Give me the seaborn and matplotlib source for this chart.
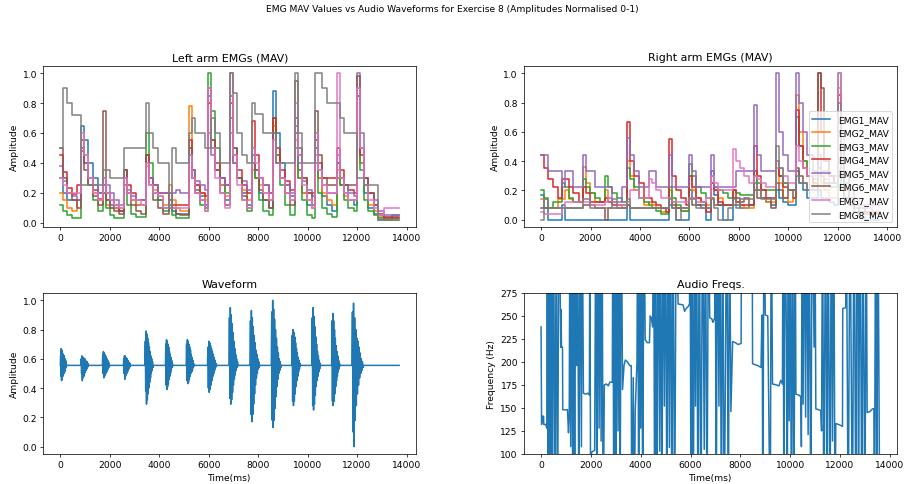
"""
EMG MAV vs audio waveform overview for exercise 8
"""
import numpy as np
import pandas as pd
import matplotlib
matplotlib.use("Agg")
import matplotlib.pyplot as plt
from matplotlib.ticker import MultipleLocator
import seaborn as sns

plt.rcParams["font.family"] = ["DejaVu Sans"]
plt.rcParams["lines.linewidth"] = 1.65

CHANNELS = ["EMG1_MAV", "EMG2_MAV", "EMG3_MAV", "EMG4_MAV",
            "EMG5_MAV", "EMG6_MAV", "EMG7_MAV", "EMG8_MAV"]
PALETTE = sns.color_palette("tab10", 8)

# shared MAV window times (ms)
EMG_T = [0, 120, 280, 470, 680,
         835, 955, 1115, 1305, 1515,
         1710, 1830, 1990, 2180, 2390,
         2590, 2710, 2870, 3060, 3270,
         3475, 3595, 3755, 3945, 4155,
         4380, 4500, 4660, 4850, 5060,
         5185, 5305, 5465, 5655, 5865,
         5990, 6110, 6270, 6460, 6670,
         6870, 6990, 7150, 7340, 7550,
         7745, 7865, 8025, 8215, 8425,
         8620, 8740, 8900, 9090, 9300,
         9500, 9620, 9780, 9970, 10180,
         10300, 10420, 10580, 10770, 10980,
         11180, 11300, 11460, 11650, 11860,
         11990, 12110, 12270, 12460, 12670,
         12850, 13100, 13400, 13700]

# left arm, normalised MAV
LEFT_EMG1 = [0.30, 0.20, 0.15, 0.15, 0.15, 0.65, 0.55, 0.40, 0.30, 0.20,
             0.25, 0.15, 0.12, 0.10, 0.08, 0.35, 0.20, 0.15, 0.12, 0.12,
             0.45, 0.30, 0.20, 0.15, 0.10, 0.12, 0.08, 0.06, 0.06, 0.06,
             0.50, 0.30, 0.22, 0.18, 0.12, 0.85, 0.50, 0.35, 0.25, 0.15,
             0.70, 0.40, 0.30, 0.20, 0.12, 0.45, 0.30, 0.20, 0.15, 0.10,
             0.88, 0.60, 0.40, 0.25, 0.18, 0.60, 0.35, 0.20, 0.12, 0.10,
             0.50, 0.30, 0.18, 0.12, 0.08, 0.40, 0.25, 0.20, 0.15, 0.12,
             0.90, 0.40, 0.20, 0.10, 0.06, 0.02, 0.02, 0.05, 0.05]
LEFT_EMG2 = [0.20, 0.15, 0.10, 0.08, 0.15, 0.55, 0.45, 0.30, 0.20, 0.15,
             0.20, 0.12, 0.10, 0.10, 0.10, 0.30, 0.20, 0.15, 0.12, 0.12,
             0.38, 0.30, 0.22, 0.18, 0.12, 0.25, 0.15, 0.10, 0.08, 0.08,
             0.78, 0.35, 0.25, 0.20, 0.15, 0.80, 0.50, 0.35, 0.25, 0.18,
             0.70, 0.40, 0.30, 0.22, 0.15, 0.35, 0.30, 0.25, 0.20, 0.15,
             0.65, 0.45, 0.30, 0.20, 0.15, 0.55, 0.30, 0.20, 0.15, 0.10,
             0.45, 0.30, 0.20, 0.15, 0.12, 0.35, 0.25, 0.18, 0.15, 0.15,
             0.90, 0.40, 0.25, 0.12, 0.08, 0.04, 0.03, 0.03, 0.03]
LEFT_EMG3 = [0.12, 0.08, 0.05, 0.03, 0.03, 0.50, 0.40, 0.25, 0.15, 0.08,
             0.20, 0.10, 0.05, 0.03, 0.03, 0.25, 0.12, 0.06, 0.04, 0.04,
             0.60, 0.40, 0.25, 0.15, 0.08, 0.10, 0.05, 0.03, 0.03, 0.03,
             0.45, 0.30, 0.20, 0.12, 0.08, 1.00, 0.75, 0.50, 0.30, 0.20,
             0.85, 0.50, 0.30, 0.15, 0.08, 0.40, 0.30, 0.15, 0.08, 0.05,
             0.70, 0.45, 0.25, 0.12, 0.05, 0.50, 0.30, 0.15, 0.05, 0.03,
             0.40, 0.20, 0.10, 0.06, 0.04, 0.30, 0.25, 0.15, 0.10, 0.08,
             0.85, 0.35, 0.15, 0.08, 0.05, 0.03, 0.02, 0.02, 0.02]
LEFT_EMG4 = [0.45, 0.34, 0.23, 0.19, 0.25, 0.48, 0.40, 0.30, 0.22, 0.16,
             0.30, 0.20, 0.15, 0.12, 0.08, 0.35, 0.25, 0.20, 0.15, 0.15,
             0.45, 0.30, 0.25, 0.20, 0.20, 0.15, 0.12, 0.12, 0.12, 0.12,
             0.55, 0.35, 0.25, 0.20, 0.18, 0.80, 0.55, 0.40, 0.30, 0.25,
             0.80, 0.45, 0.35, 0.25, 0.20, 0.68, 0.45, 0.30, 0.25, 0.20,
             0.70, 0.50, 0.35, 0.28, 0.22, 0.70, 0.45, 0.30, 0.20, 0.20,
             0.55, 0.40, 0.30, 0.30, 0.30, 0.50, 0.35, 0.25, 0.22, 0.20,
             0.85, 0.45, 0.30, 0.20, 0.12, 0.06, 0.04, 0.04, 0.04]
LEFT_EMG5 = [0.38, 0.28, 0.20, 0.18, 0.15, 0.50, 0.40, 0.30, 0.25, 0.20,
             0.30, 0.25, 0.20, 0.15, 0.12, 0.30, 0.22, 0.18, 0.15, 0.15,
             0.40, 0.30, 0.25, 0.20, 0.20, 0.15, 0.20, 0.22, 0.20, 0.20,
             0.45, 0.35, 0.28, 0.25, 0.22, 0.60, 0.45, 0.35, 0.30, 0.25,
             0.60, 0.40, 0.30, 0.28, 0.22, 0.40, 0.35, 0.30, 0.25, 0.20,
             0.60, 0.40, 0.30, 0.25, 0.20, 0.65, 0.40, 0.28, 0.22, 0.18,
             0.60, 0.35, 0.25, 0.20, 0.20, 0.45, 0.30, 0.25, 0.20, 0.18,
             1.00, 0.60, 0.30, 0.20, 0.15, 0.08, 0.05, 0.05, 0.05]
LEFT_EMG6 = [0.50, 0.30, 0.20, 0.15, 0.10, 0.55, 0.35, 0.25, 0.18, 0.12,
             0.75, 0.15, 0.10, 0.08, 0.06, 0.35, 0.20, 0.12, 0.08, 0.06,
             0.45, 0.25, 0.15, 0.10, 0.06, 0.20, 0.10, 0.06, 0.05, 0.05,
             0.50, 0.30, 0.20, 0.15, 0.10, 0.90, 0.55, 0.35, 0.20, 0.12,
             1.00, 0.50, 0.30, 0.18, 0.10, 0.50, 0.35, 0.22, 0.15, 0.10,
             0.60, 0.40, 0.30, 0.20, 0.12, 0.95, 0.50, 0.30, 0.20, 0.12,
             0.75, 0.45, 0.30, 0.25, 0.25, 0.40, 0.30, 0.25, 0.25, 0.25,
             0.98, 0.50, 0.30, 0.20, 0.12, 0.05, 0.03, 0.03, 0.03]
LEFT_EMG7 = [0.30, 0.25, 0.20, 0.20, 0.20, 0.60, 0.45, 0.30, 0.20, 0.15,
             0.30, 0.20, 0.15, 0.12, 0.10, 0.30, 0.20, 0.15, 0.15, 0.12,
             0.40, 0.25, 0.20, 0.18, 0.10, 0.10, 0.10, 0.10, 0.10, 0.10,
             0.45, 0.30, 0.20, 0.15, 0.08, 0.90, 0.50, 0.30, 0.20, 0.10,
             1.00, 0.45, 0.25, 0.15, 0.10, 0.50, 0.40, 0.30, 0.20, 0.15,
             0.55, 0.40, 0.30, 0.20, 0.15, 0.80, 0.45, 0.25, 0.15, 0.10,
             0.60, 0.35, 0.25, 0.20, 0.20, 1.00, 0.30, 0.20, 0.15, 0.15,
             0.90, 0.50, 0.25, 0.15, 0.10, 0.05, 0.10, 0.10, 0.10]
LEFT_EMG8 = [0.50, 0.90, 0.80, 0.72, 0.72, 0.25, 0.25, 0.25, 0.25, 0.25,
             0.35, 0.35, 0.30, 0.30, 0.30, 0.50, 0.50, 0.50, 0.50, 0.50,
             0.80, 0.60, 0.50, 0.40, 0.40, 0.10, 0.50, 0.40, 0.40, 0.40,
             0.60, 0.70, 0.60, 0.60, 0.50, 0.50, 0.70, 0.60, 0.40, 0.40,
             1.00, 0.87, 0.60, 0.45, 0.40, 0.80, 0.73, 0.73, 0.60, 0.60,
             0.60, 0.40, 0.40, 0.40, 0.40, 1.00, 0.60, 0.40, 0.40, 0.40,
             1.00, 1.00, 0.90, 0.80, 0.80, 0.80, 0.70, 0.60, 0.60, 0.60,
             0.30, 0.30, 0.25, 0.25, 0.25, 0.02, 0.02, 0.02, 0.02]

# right arm, normalised MAV
RIGHT_EMG1 = [0.17, 0.08, 0.00, 0.00, 0.00, 0.10, 0.00, 0.00, 0.00, 0.00,
              0.00, 0.00, 0.00, 0.00, 0.00, 0.00, 0.00, 0.00, 0.00, 0.00,
              0.10, 0.00, 0.00, 0.00, 0.00, 0.00, 0.00, 0.00, 0.00, 0.00,
              0.10, 0.08, 0.00, 0.00, 0.00, 0.20, 0.15, 0.10, 0.10, 0.00,
              0.33, 0.17, 0.10, 0.00, 0.00, 0.10, 0.10, 0.08, 0.08, 0.10,
              0.33, 0.20, 0.15, 0.12, 0.10, 0.20, 0.15, 0.12, 0.10, 0.10,
              0.33, 0.25, 0.20, 0.15, 0.15, 0.20, 0.15, 0.15, 0.12, 0.10,
              0.30, 0.20, 0.15, 0.10, 0.05, 0.02, 0.00, 0.00, 0.00]
RIGHT_EMG2 = [0.14, 0.14, 0.08, 0.08, 0.14, 0.14, 0.20, 0.14, 0.12, 0.12,
              0.36, 0.25, 0.18, 0.12, 0.12, 0.20, 0.15, 0.12, 0.10, 0.08,
              0.40, 0.30, 0.20, 0.15, 0.10, 0.12, 0.10, 0.08, 0.05, 0.05,
              0.20, 0.12, 0.08, 0.06, 0.06, 0.30, 0.20, 0.15, 0.12, 0.10,
              0.25, 0.20, 0.15, 0.10, 0.10, 0.15, 0.12, 0.10, 0.08, 0.08,
              0.30, 0.20, 0.15, 0.12, 0.12, 0.35, 0.25, 0.15, 0.12, 0.15,
              0.85, 0.60, 0.40, 0.30, 0.20, 0.30, 0.25, 0.20, 0.15, 0.15,
              0.90, 0.50, 0.20, 0.15, 0.10, 0.10, 0.08, 0.05, 0.05]
RIGHT_EMG3 = [0.20, 0.15, 0.08, 0.12, 0.12, 0.25, 0.22, 0.15, 0.12, 0.12,
              0.28, 0.22, 0.18, 0.15, 0.12, 0.30, 0.22, 0.18, 0.15, 0.12,
              0.35, 0.28, 0.22, 0.15, 0.12, 0.10, 0.08, 0.06, 0.04, 0.04,
              0.22, 0.15, 0.10, 0.06, 0.06, 0.38, 0.30, 0.22, 0.18, 0.15,
              0.30, 0.22, 0.20, 0.18, 0.15, 0.20, 0.18, 0.17, 0.17, 0.17,
              0.30, 0.25, 0.20, 0.20, 0.20, 0.40, 0.30, 0.25, 0.20, 0.20,
              0.70, 0.50, 0.40, 0.30, 0.28, 0.35, 0.30, 0.25, 0.22, 0.22,
              1.00, 0.50, 0.25, 0.15, 0.10, 0.08, 0.05, 0.04, 0.03]
RIGHT_EMG4 = [0.44, 0.35, 0.28, 0.22, 0.15, 0.28, 0.28, 0.22, 0.18, 0.12,
              0.22, 0.18, 0.12, 0.12, 0.12, 0.15, 0.12, 0.10, 0.10, 0.10,
              0.67, 0.40, 0.30, 0.25, 0.15, 0.15, 0.12, 0.10, 0.08, 0.05,
              0.55, 0.30, 0.20, 0.15, 0.10, 0.30, 0.22, 0.15, 0.12, 0.05,
              0.25, 0.20, 0.12, 0.10, 0.10, 0.20, 0.12, 0.10, 0.10, 0.10,
              0.50, 0.30, 0.20, 0.15, 0.15, 0.40, 0.30, 0.22, 0.20, 0.20,
              0.75, 0.50, 0.35, 0.30, 0.25, 1.00, 0.60, 0.40, 0.30, 0.25,
              0.85, 0.40, 0.20, 0.12, 0.10, 0.05, 0.04, 0.04, 0.04]
RIGHT_EMG5 = [0.44, 0.44, 0.33, 0.33, 0.33, 0.22, 0.33, 0.33, 0.22, 0.22,
              0.44, 0.33, 0.33, 0.22, 0.22, 0.22, 0.22, 0.12, 0.12, 0.22,
              0.56, 0.44, 0.33, 0.22, 0.22, 0.33, 0.33, 0.22, 0.22, 0.22,
              0.44, 0.22, 0.22, 0.22, 0.22, 0.44, 0.33, 0.22, 0.22, 0.22,
              0.44, 0.22, 0.22, 0.22, 0.22, 0.22, 0.33, 0.33, 0.33, 0.33,
              0.78, 0.44, 0.33, 0.33, 0.33, 1.00, 0.60, 0.44, 0.33, 0.33,
              1.00, 0.80, 0.60, 0.44, 0.33, 0.44, 0.33, 0.33, 0.30, 0.30,
              0.33, 0.30, 0.22, 0.15, 0.10, 0.10, 0.10, 0.10, 0.10]
RIGHT_EMG6 = [0.08, 0.08, 0.08, 0.08, 0.08, 0.08, 0.08, 0.08, 0.08, 0.08,
              0.10, 0.10, 0.10, 0.08, 0.08, 0.00, 0.08, 0.08, 0.08, 0.08,
              0.10, 0.08, 0.08, 0.08, 0.08, 0.08, 0.08, 0.08, 0.08, 0.08,
              0.15, 0.10, 0.08, 0.08, 0.08, 0.15, 0.10, 0.10, 0.08, 0.08,
              0.15, 0.10, 0.10, 0.10, 0.10, 0.15, 0.15, 0.12, 0.15, 0.10,
              0.20, 0.15, 0.15, 0.15, 0.08, 0.25, 0.20, 0.15, 0.20, 0.15,
              0.35, 0.30, 0.25, 0.20, 0.20, 1.00, 0.90, 0.40, 0.30, 0.25,
              0.60, 0.30, 0.15, 0.10, 0.08, 0.05, 0.05, 0.05, 0.05]
RIGHT_EMG7 = [0.05, 0.04, 0.04, 0.04, 0.04, 0.08, 0.12, 0.12, 0.12, 0.12,
              0.12, 0.12, 0.10, 0.10, 0.10, 0.12, 0.15, 0.12, 0.10, 0.10,
              0.12, 0.20, 0.20, 0.15, 0.15, 0.28, 0.25, 0.20, 0.15, 0.15,
              0.15, 0.12, 0.12, 0.12, 0.12, 0.15, 0.15, 0.12, 0.12, 0.15,
              0.30, 0.25, 0.20, 0.20, 0.20, 0.48, 0.40, 0.35, 0.30, 0.25,
              0.30, 0.28, 0.25, 0.22, 0.22, 0.40, 0.35, 0.30, 0.25, 0.25,
              0.50, 0.40, 0.35, 0.30, 0.30, 0.35, 0.30, 0.28, 0.25, 0.25,
              1.00, 0.60, 0.30, 0.20, 0.15, 0.10, 0.08, 0.06, 0.05]
RIGHT_EMG8 = [0.00, 0.14, 0.08, 0.08, 0.08, 0.08, 0.08, 0.08, 0.08, 0.08,
              0.14, 0.14, 0.08, 0.08, 0.08, 0.08, 0.08, 0.14, 0.08, 0.08,
              0.14, 0.08, 0.08, 0.08, 0.08, 0.08, 0.08, 0.08, 0.08, 0.08,
              0.14, 0.08, 0.00, 0.08, 0.08, 0.14, 0.14, 0.08, 0.08, 0.08,
              0.14, 0.08, 0.00, 0.00, 0.08, 0.14, 0.08, 0.14, 0.14, 0.14,
              0.25, 0.20, 0.14, 0.14, 0.14, 0.50, 0.35, 0.25, 0.20, 0.20,
              0.30, 0.25, 0.25, 0.20, 0.20, 0.35, 0.30, 0.25, 0.25, 0.25,
              0.80, 0.50, 0.30, 0.20, 0.10, 0.08, 0.05, 0.05, 0.05]

LEFT_SERIES = [LEFT_EMG1, LEFT_EMG2, LEFT_EMG3, LEFT_EMG4,
               LEFT_EMG5, LEFT_EMG6, LEFT_EMG7, LEFT_EMG8]
RIGHT_SERIES = [RIGHT_EMG1, RIGHT_EMG2, RIGHT_EMG3, RIGHT_EMG4,
                RIGHT_EMG5, RIGHT_EMG6, RIGHT_EMG7, RIGHT_EMG8]

# audio bursts: start/end (ms) and envelope (upper / lower peaks)
WAVE_ON = [0, 830, 1700, 2550, 3420, 4250, 5090, 5950,
           6820, 7670, 8530, 9360, 10170, 10970, 11790]
WAVE_OFF = [260, 1140, 2000, 2840, 3760, 4560, 5420, 6330,
            7200, 8060, 8930, 9720, 10540, 11320, 12260]
WAVE_UP = [
    [0.62, 0.67, 0.66, 0.64, 0.63, 0.62, 0.62, 0.60, 0.59, 0.58],
    [0.60, 0.62, 0.61, 0.61, 0.60, 0.60, 0.59, 0.58, 0.58, 0.57],
    [0.63, 0.65, 0.64, 0.63, 0.62, 0.61, 0.60, 0.59, 0.58, 0.57],
    [0.60, 0.62, 0.62, 0.61, 0.60, 0.60, 0.59, 0.58, 0.57, 0.57],
    [0.72, 0.79, 0.77, 0.74, 0.71, 0.68, 0.65, 0.62, 0.60, 0.58],
    [0.70, 0.73, 0.72, 0.70, 0.68, 0.65, 0.63, 0.61, 0.59, 0.57],
    [0.70, 0.73, 0.72, 0.70, 0.68, 0.66, 0.63, 0.61, 0.59, 0.57],
    [0.68, 0.72, 0.71, 0.69, 0.67, 0.65, 0.63, 0.61, 0.59, 0.57],
    [0.88, 0.95, 0.90, 0.84, 0.78, 0.72, 0.67, 0.63, 0.60, 0.58],
    [0.86, 0.93, 0.88, 0.82, 0.76, 0.71, 0.66, 0.63, 0.60, 0.58],
    [0.92, 1.00, 0.94, 0.87, 0.80, 0.74, 0.68, 0.64, 0.60, 0.58],
    [0.76, 0.80, 0.78, 0.75, 0.71, 0.67, 0.64, 0.61, 0.59, 0.57],
    [0.88, 0.95, 0.89, 0.82, 0.75, 0.70, 0.65, 0.62, 0.59, 0.57],
    [0.86, 0.91, 0.86, 0.80, 0.74, 0.69, 0.65, 0.62, 0.59, 0.57],
    [0.92, 0.98, 0.88, 0.80, 0.74, 0.72, 0.68, 0.64, 0.60, 0.58],
]
WAVE_LOW = [
    [0.48, 0.45, 0.46, 0.48, 0.50, 0.50, 0.51, 0.52, 0.54, 0.55],
    [0.50, 0.45, 0.47, 0.48, 0.50, 0.51, 0.52, 0.53, 0.54, 0.55],
    [0.50, 0.47, 0.48, 0.49, 0.50, 0.51, 0.52, 0.53, 0.54, 0.55],
    [0.50, 0.46, 0.48, 0.49, 0.50, 0.51, 0.52, 0.53, 0.54, 0.55],
    [0.38, 0.29, 0.32, 0.36, 0.40, 0.44, 0.47, 0.50, 0.52, 0.54],
    [0.42, 0.39, 0.41, 0.43, 0.46, 0.48, 0.50, 0.52, 0.54, 0.55],
    [0.45, 0.43, 0.44, 0.46, 0.48, 0.50, 0.51, 0.52, 0.54, 0.55],
    [0.40, 0.37, 0.39, 0.42, 0.45, 0.48, 0.50, 0.52, 0.54, 0.55],
    [0.33, 0.29, 0.32, 0.37, 0.42, 0.46, 0.49, 0.52, 0.54, 0.55],
    [0.22, 0.17, 0.22, 0.29, 0.36, 0.42, 0.47, 0.50, 0.53, 0.54],
    [0.18, 0.13, 0.18, 0.26, 0.34, 0.41, 0.46, 0.50, 0.52, 0.54],
    [0.31, 0.28, 0.31, 0.36, 0.41, 0.45, 0.48, 0.51, 0.53, 0.55],
    [0.28, 0.25, 0.29, 0.35, 0.41, 0.45, 0.48, 0.51, 0.53, 0.55],
    [0.31, 0.28, 0.31, 0.36, 0.41, 0.45, 0.48, 0.51, 0.53, 0.55],
    [0.10, 0.00, 0.18, 0.28, 0.36, 0.42, 0.47, 0.50, 0.52, 0.54],
]
WAVE_BASE = 0.555
WAVE_END = 13700

# pitch track (Hz); 0 = unvoiced, 400 = off the top of the axis
FREQ_T = [0, 20, 60, 100, 110, 190, 230, 250, 280, 330, 370, 410, 450, 500,
          560, 610, 660, 720, 790, 800, 820, 860, 870, 1060, 1100, 1130,
          1160, 1190, 1240, 1270, 1310, 1350, 1390, 1430, 1460, 1520, 1560,
          1620, 1650, 1700, 1790, 1880, 1940, 1960, 1990, 2030, 2150, 2200,
          2240, 2280, 2330, 2370, 2410, 2450, 2490, 2540, 2620, 2700, 2760,
          2860, 2880, 2920, 2960, 3000, 3050, 3090, 3130, 3170, 3220, 3270,
          3330, 3380, 3470, 3560, 3620, 3640, 3700, 3740, 3780, 3850, 3880,
          3920, 3960, 4000, 4040, 4080, 4130, 4180, 4260, 4350, 4380, 4430,
          4480, 4520, 4560, 4600, 4650, 4700, 4760, 4800, 4850, 4900, 4950,
          5000, 5050, 5100, 5150, 5200, 5250, 5300, 5360, 5430, 5500, 5700,
          5760, 5820, 5900, 5960, 5980, 6020, 6060, 6110, 6160, 6200, 6240,
          6300, 6350, 6420, 6480, 6550, 6600, 6660, 6720, 6770, 6850, 6900,
          6970, 6990, 7030, 7080, 7140, 7180, 7240, 7290, 7350, 7400, 7450,
          7520, 7560, 7620, 7690, 7800, 7900, 8030, 8050, 8470, 8490, 8600,
          8700, 8830, 8860, 8880, 8900, 8950, 9000, 9100, 9200, 9240, 9290,
          9450, 9550, 9620, 9690, 9710, 9750, 9790, 9850, 9880, 9920, 9960,
          10000, 10050, 10100, 10150, 10200, 10230, 10350, 10430, 10450,
          10480, 10520, 10560, 10620, 10660, 10720, 10760, 10830, 10880,
          10960, 10990, 11030, 11150, 11230, 11260, 11300, 11350, 11420,
          11480, 11520, 11600, 11650, 11700, 11750, 11800, 11830, 11950,
          12100, 12110, 12230, 12250, 12330, 12400, 12500, 12560, 12640,
          12680, 12720, 12740, 12800, 12880, 12920, 13000, 13050, 13090,
          13200, 13300, 13360, 13380, 13430, 13480, 13520, 13600]
FREQ_HZ = [238, 132, 141, 141, 132, 132, 128, 400, 0, 400, 0, 400, 0, 400,
           0, 400, 0, 400, 216, 257, 216, 216, 148, 148, 123, 140,
           400, 108, 400, 0, 400, 0, 400, 196, 400, 0, 400,
           108, 400, 166, 165, 166, 164, 400, 0, 102, 104, 400,
           0, 400, 128, 400, 114, 400, 0, 175, 176, 174, 178,
           178, 400, 0, 400, 0, 400, 125, 400, 0, 400, 170,
           196, 202, 200, 196, 196, 0, 183, 0, 147, 200, 400,
           0, 400, 128, 400, 0, 400, 224, 221, 221, 250, 248,
           238, 400, 0, 400, 0, 400, 103, 400, 0, 400, 152,
           400, 0, 400, 107, 400, 0, 400, 0, 400, 263, 262,
           255, 258, 260, 263, 400, 0, 400, 0, 400, 152, 400,
           0, 400, 0, 400, 105, 400, 0, 400, 248, 247, 243,
           248, 400, 0, 400, 152, 400, 0, 400, 0, 189, 400,
           0, 400, 146, 222, 221, 219, 220, 400, 400, 198, 197,
           196, 194, 244, 251, 0, 400, 251, 250, 0, 400, 176,
           175, 174, 180, 176, 400, 0, 400, 220, 0, 400, 136,
           400, 0, 400, 0, 400, 165, 164, 162, 108,
           400, 154, 400, 140, 400, 121, 400, 0, 400,
           216, 400, 149, 148, 147, 125, 400, 0, 400,
           0, 400, 0, 400, 114, 400, 0, 133, 132,
           130, 258, 259, 400, 0, 400, 0, 400, 0,
           400, 400, 0, 400, 0, 400, 0, 400, 145,
           146, 149, 149, 0, 400, 0, 400, 0]


def emg_frame(series_list):
    """整理成长表: Time / Amplitude / Channel"""
    frames = []
    for name, vals in zip(CHANNELS, series_list):
        frames.append(pd.DataFrame({"Time": EMG_T, "Amplitude": vals, "Channel": name}))
    return pd.concat(frames, ignore_index=True)


def wave_points():
    """burst envelopes -> zig-zag trace around the baseline"""
    ts, vs = [], []
    for on, off, up, low in zip(WAVE_ON, WAVE_OFF, WAVE_UP, WAVE_LOW):
        zig = [WAVE_BASE]
        for u, l in zip(up, low):
            zig += [u, l]
        zig.append(WAVE_BASE)
        ts += list(np.linspace(on, off, len(zig)))
        vs += zig
    ts.append(WAVE_END)
    vs.append(WAVE_BASE)
    return np.array(ts), np.array(vs)


def plot_emg(ax, df, title, legend):
    sns.lineplot(data=df, x="Time", y="Amplitude", hue="Channel",
                 hue_order=CHANNELS, palette=PALETTE, estimator=None,
                 drawstyle="steps-post", ax=ax, legend=legend)
    ax.set_title(title)
    ax.set_xlabel("")
    ax.set_ylabel("Amplitude")
    if legend:
        old = ax.get_legend()
        handles = old.legend_handles
        labels = [t.get_text() for t in old.get_texts()]
        ax.legend(handles, labels, loc="lower right")


fig, axes = plt.subplots(2, 2, figsize=(13.76, 7.382), dpi=65.7)
fig.subplots_adjust(left=0.048, right=0.992, bottom=0.062, top=0.862,
                    wspace=0.29, hspace=0.41)

plot_emg(axes[0, 0], emg_frame(LEFT_SERIES), "Left arm EMGs (MAV)", False)
plot_emg(axes[0, 1], emg_frame(RIGHT_SERIES), "Right arm EMGs (MAV)", True)

wt, wv = wave_points()
ax = axes[1, 0]
sns.lineplot(x=wt, y=wv, estimator=None, sort=False, color="tab:blue", ax=ax)
ax.set_title("Waveform")
ax.set_xlabel("Time(ms)")
ax.set_ylabel("Amplitude")

ax = axes[1, 1]
sns.lineplot(x=FREQ_T, y=FREQ_HZ, estimator=None, sort=False, color="tab:blue", ax=ax)
ax.set_ylim(100, 275)
ax.yaxis.set_major_locator(MultipleLocator(25))
ax.set_title("Audio Freqs.")
ax.set_xlabel("Time(ms)")
ax.set_ylabel("Frequency (Hz)")

fig.suptitle("EMG MAV Values vs Audio Waveforms for Exercise 8 (Amplitudes Normalised 0-1)",
             y=0.99, fontsize=10)
fig.savefig("out.png", dpi=65.7)
plt.close(fig)
